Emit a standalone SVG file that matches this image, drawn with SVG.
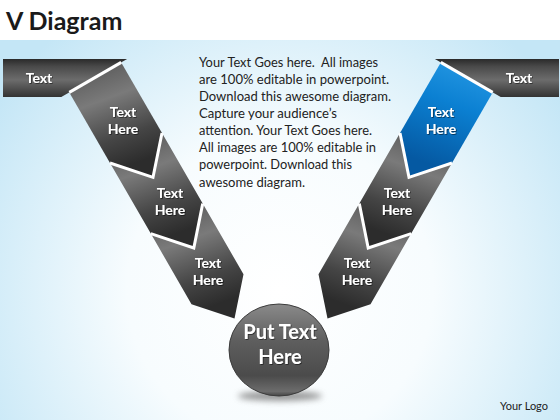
<svg xmlns="http://www.w3.org/2000/svg" width="560" height="420" viewBox="0 0 560 420">
  <defs>
    <radialGradient id="bg" gradientUnits="userSpaceOnUse" cx="280" cy="290" r="340">
      <stop offset="0" stop-color="#ffffff"/>
      <stop offset="0.45" stop-color="#f7fcfe"/>
      <stop offset="1" stop-color="#c4e6f6"/>
    </radialGradient>
    <linearGradient id="gGray" x1="0" y1="0" x2="0.3" y2="1">
      <stop offset="0" stop-color="#505050"/>
      <stop offset="0.4" stop-color="#7a7a7a"/>
      <stop offset="0.75" stop-color="#454545"/>
      <stop offset="1" stop-color="#2c2c2c"/>
    </linearGradient>
    <linearGradient id="gBar" x1="0" y1="0" x2="0" y2="1">
      <stop offset="0" stop-color="#2a2a2a"/>
      <stop offset="0.2" stop-color="#4a4a4a"/>
      <stop offset="0.55" stop-color="#6c6c6c"/>
      <stop offset="1" stop-color="#333333"/>
    </linearGradient>
    <linearGradient id="gBlue" x1="0" y1="0" x2="0.3" y2="1">
      <stop offset="0" stop-color="#2a9ce6"/>
      <stop offset="0.45" stop-color="#0b80d2"/>
      <stop offset="1" stop-color="#0559a2"/>
    </linearGradient>
    <linearGradient id="gBall" x1="0" y1="0" x2="0" y2="1">
      <stop offset="0" stop-color="#8a8a8a"/>
      <stop offset="0.4" stop-color="#5e5e5e"/>
      <stop offset="0.78" stop-color="#4b4b4b"/>
      <stop offset="0.95" stop-color="#6c6c6c"/>
      <stop offset="1" stop-color="#444444"/>
    </linearGradient>
    <filter id="blur" x="-30%" y="-100%" width="160%" height="300%">
      <feGaussianBlur stdDeviation="3"/>
    </filter>
    <filter id="tsh" x="-20%" y="-20%" width="140%" height="140%">
      <feDropShadow dx="0.8" dy="0.8" stdDeviation="0.6" flood-color="#000" flood-opacity="0.6"/>
    </filter>
  </defs>
  <style>
    .chev { fill: url(#gGray); }
    .bar { fill: url(#gBar); }
    .sep { fill: none; stroke: #ffffff; stroke-width: 3; stroke-linejoin: miter; }
    .lbl { font-family: Lato, "Open Sans", sans-serif; font-weight: bold; font-size: 14px; fill: #ffffff; text-anchor: middle; filter: url(#tsh); }
    .big { font-family: Lato, "Open Sans", sans-serif; font-weight: bold; font-size: 20px; fill: #ffffff; text-anchor: middle; filter: url(#tsh); }
    .body { font-family: Lato, "Open Sans", sans-serif; font-size: 13px; fill: #222222; }
  </style>

  <rect x="0" y="0" width="560" height="420" fill="#ffffff"/>
  <rect x="0" y="40" width="560" height="380" fill="url(#bg)"/>

  <text x="6" y="30" font-family="Lato, 'Open Sans', sans-serif" font-weight="bold" font-size="25" fill="#1a1a1a">V Diagram</text>

  <g id="left-side">
    <g id="left-bar">
      <polygon class="bar" points="3,59 127.1,59 61.3,97 3,97"/>
      <text class="lbl" x="39" y="83">Text</text>
    </g>
    <g id="left-step-3">
      <polygon class="chev" points="150.8,233.6 193.8,248 202.7,203.6 243.5,274.2 234.5,318.6 191.5,304.2"/>
      <text class="lbl" x="208" y="268">Text</text>
      <text class="lbl" x="208" y="285">Here</text>
    </g>
    <g id="left-step-2">
      <polygon class="chev" points="110,163 153,177.4 162,133 202.7,203.6 193.8,248 150.8,233.6"/>
      <text class="lbl" x="170" y="198">Text</text>
      <text class="lbl" x="170" y="215">Here</text>
    </g>
    <g id="left-step-1">
      <polygon class="chev" points="69.3,92.4 121.2,62.4 162,133 153,177.4 110,163"/>
      <text class="lbl" x="123" y="117">Text</text>
      <text class="lbl" x="123" y="134">Here</text>
    </g>
  </g>

  <g id="right-side">
    <g id="right-bar">
      <polygon class="bar" transform="matrix(-1 0 0 1 562 0)" points="3,59 127.1,59 61.3,97 3,97"/>
      <text class="lbl" x="519" y="83">Text</text>
    </g>
    <g id="right-step-3">
      <polygon class="chev" transform="matrix(-1 0 0 1 562 0)" points="150.8,233.6 193.8,248 202.7,203.6 243.5,274.2 234.5,318.6 191.5,304.2"/>
      <text class="lbl" x="357" y="268">Text</text>
      <text class="lbl" x="357" y="285">Here</text>
    </g>
    <g id="right-step-2">
      <polygon class="chev" transform="matrix(-1 0 0 1 562 0)" points="110,163 153,177.4 162,133 202.7,203.6 193.8,248 150.8,233.6"/>
      <text class="lbl" x="397" y="198">Text</text>
      <text class="lbl" x="397" y="215">Here</text>
    </g>
    <g id="right-step-1">
      <polygon transform="matrix(-1 0 0 1 562 0)" fill="url(#gBlue)" points="69.3,92.4 121.2,62.4 162,133 153,177.4 110,163"/>
      <text class="lbl" x="441" y="117">Text</text>
      <text class="lbl" x="441" y="134">Here</text>
    </g>
  </g>

  <g id="separators">
    <polyline class="sep" points="69.3,92.4 121.2,62.4"/>
    <polyline class="sep" points="110,163 153,177.4 162,133"/>
    <polyline class="sep" points="150.8,233.6 193.8,248 202.7,203.6"/>
    <g transform="matrix(-1 0 0 1 562 0)">
      <polyline class="sep" points="69.3,92.4 121.2,62.4"/>
      <polyline class="sep" points="110,163 153,177.4 162,133"/>
      <polyline class="sep" points="150.8,233.6 193.8,248 202.7,203.6"/>
    </g>
  </g>

  <g id="center-ball">
    <ellipse cx="280" cy="396" rx="42" ry="5" fill="#6a6a6a" opacity="0.7" filter="url(#blur)"/>
    <ellipse cx="279" cy="350" rx="50" ry="46" fill="url(#gBall)" stroke="#3c3c3c" stroke-width="1"/>
    <text class="big" x="280" y="339">Put Text</text>
    <text class="big" x="280" y="364">Here</text>
  </g>

  <g id="body-text">
    <text class="body" x="199" y="66.5" xml:space="preserve" textLength="179" lengthAdjust="spacingAndGlyphs">Your Text Goes here.  All images</text>
    <text class="body" x="199" y="83.6" textLength="190" lengthAdjust="spacingAndGlyphs">are 100% editable in powerpoint.</text>
    <text class="body" x="199" y="100.8" textLength="192" lengthAdjust="spacingAndGlyphs">Download this awesome diagram.</text>
    <text class="body" x="199" y="117.9" textLength="138" lengthAdjust="spacingAndGlyphs">Capture your audience’s</text>
    <text class="body" x="199" y="135.1" textLength="173" lengthAdjust="spacingAndGlyphs">attention. Your Text Goes here.</text>
    <text class="body" x="199" y="152.2" textLength="177" lengthAdjust="spacingAndGlyphs">All images are 100% editable in</text>
    <text class="body" x="199" y="169.3" textLength="153" lengthAdjust="spacingAndGlyphs">powerpoint. Download this</text>
    <text class="body" x="199" y="186.5" textLength="106" lengthAdjust="spacingAndGlyphs">awesome diagram.</text>
  </g>

  <text x="524" y="410" font-family="Lato, 'Open Sans', sans-serif" font-size="11" fill="#222222" text-anchor="middle">Your Logo</text>
</svg>
